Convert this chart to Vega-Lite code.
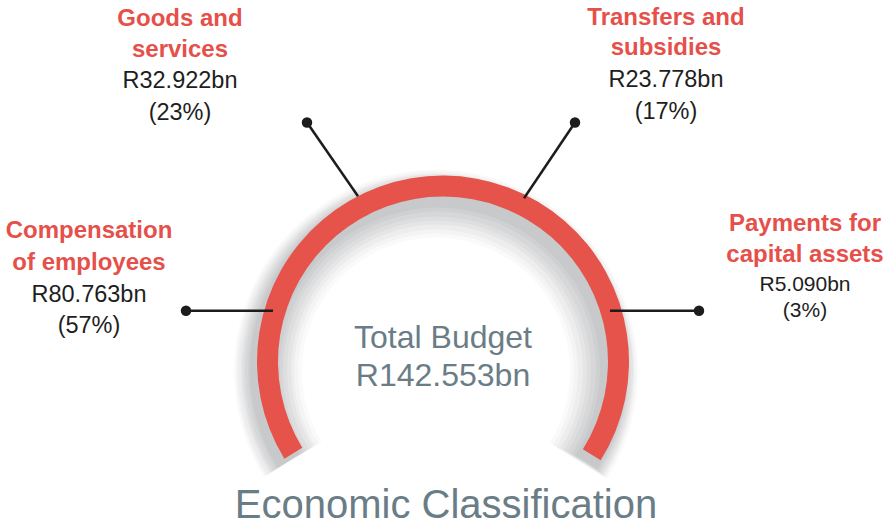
{
  "$schema": "https://vega.github.io/schema/vega-lite/v6.json",
  "width": 892,
  "height": 526,
  "autosize": {"type": "fit", "contains": "padding"},
  "padding": 0,
  "background": "#ffffff",
  "config": {"view": {"stroke": null}, "font": "Liberation Sans"},
  "datasets": {
    "ring": [{"cx": 0, "cy": 0, "a0": -2.12, "a1": 2.13, "total": 142.553}],
    "leaders": [
      {"category": "Compensation of employees", "amount": 80.763, "share": 57, "ex": -170, "ey": 51, "dx": -257, "dy": 51},
      {"category": "Goods and services", "amount": 32.922, "share": 23, "ex": -85, "ey": 166, "dx": -136, "dy": 240},
      {"category": "Transfers and subsidies", "amount": 23.778, "share": 17, "ex": 81, "ey": 164, "dx": 132, "dy": 240},
      {"category": "Payments for capital assets", "amount": 5.09, "share": 3, "ex": 167, "ey": 51, "dx": 256, "dy": 51}
    ],
    "labels": [
      {"category": "Goods and services", "kind": "name", "text": "Goods and", "x": -263, "y": 337},
      {"category": "Goods and services", "kind": "name", "text": "services", "x": -263, "y": 306},
      {"category": "Goods and services", "kind": "value", "text": "R32.922bn", "x": -263, "y": 275},
      {"category": "Goods and services", "kind": "value", "text": "(23%)", "x": -263, "y": 243},
      {"category": "Transfers and subsidies", "kind": "name", "text": "Transfers and", "x": 223, "y": 338},
      {"category": "Transfers and subsidies", "kind": "name", "text": "subsidies", "x": 223, "y": 308},
      {"category": "Transfers and subsidies", "kind": "value", "text": "R23.778bn", "x": 223, "y": 276},
      {"category": "Transfers and subsidies", "kind": "value", "text": "(17%)", "x": 223, "y": 244},
      {"category": "Compensation of employees", "kind": "name", "text": "Compensation", "x": -354, "y": 124},
      {"category": "Compensation of employees", "kind": "name", "text": "of employees", "x": -354, "y": 92},
      {"category": "Compensation of employees", "kind": "value", "text": "R80.763bn", "x": -354, "y": 60},
      {"category": "Compensation of employees", "kind": "value", "text": "(57%)", "x": -354, "y": 29},
      {"category": "Payments for capital assets", "kind": "name", "text": "Payments for", "x": 362, "y": 131},
      {"category": "Payments for capital assets", "kind": "name", "text": "capital assets", "x": 362, "y": 100},
      {"category": "Payments for capital assets", "kind": "small", "text": "R5.090bn", "x": 362, "y": 71},
      {"category": "Payments for capital assets", "kind": "small", "text": "(3%)", "x": 362, "y": 45}
    ],
    "centre": [
      {"kind": "total", "text": "Total Budget", "x": 0, "y": 14},
      {"kind": "total", "text": "R142.553bn", "x": 0, "y": -24},
      {"kind": "title", "text": "Economic Classification", "x": 3, "y": -157}
    ]
  },
  "encoding": {
    "x": {"type": "quantitative", "scale": {"domain": [-443, 449], "nice": false, "zero": false}, "axis": null},
    "y": {"type": "quantitative", "scale": {"domain": [-163, 363], "nice": false, "zero": false}, "axis": null}
  },
  "layer": [
    {
      "data": {"name": "ring"},
      "mark": {"type": "arc", "innerRadius": 134, "outerRadius": 202, "color": "#80868d", "opacity": 0.045, "xOffset": -7, "yOffset": 10},
      "encoding": {"x": {"field": "cx"}, "y": {"field": "cy"}, "theta": {"field": "a0", "type": "quantitative", "scale": null}, "theta2": {"field": "a1"}}
    },
    {
      "data": {"name": "ring"},
      "mark": {"type": "arc", "innerRadius": 138, "outerRadius": 200, "color": "#80868d", "opacity": 0.05, "xOffset": -7, "yOffset": 10},
      "encoding": {"x": {"field": "cx"}, "y": {"field": "cy"}, "theta": {"field": "a0", "type": "quantitative", "scale": null}, "theta2": {"field": "a1"}}
    },
    {
      "data": {"name": "ring"},
      "mark": {"type": "arc", "innerRadius": 142, "outerRadius": 198, "color": "#80868d", "opacity": 0.06, "xOffset": -7, "yOffset": 10},
      "encoding": {"x": {"field": "cx"}, "y": {"field": "cy"}, "theta": {"field": "a0", "type": "quantitative", "scale": null}, "theta2": {"field": "a1"}}
    },
    {
      "data": {"name": "ring"},
      "mark": {"type": "arc", "innerRadius": 146, "outerRadius": 196, "color": "#80868d", "opacity": 0.07, "xOffset": -6, "yOffset": 9},
      "encoding": {"x": {"field": "cx"}, "y": {"field": "cy"}, "theta": {"field": "a0", "type": "quantitative", "scale": null}, "theta2": {"field": "a1"}}
    },
    {
      "data": {"name": "ring"},
      "mark": {"type": "arc", "innerRadius": 150, "outerRadius": 194, "color": "#80868d", "opacity": 0.075, "xOffset": -6, "yOffset": 9},
      "encoding": {"x": {"field": "cx"}, "y": {"field": "cy"}, "theta": {"field": "a0", "type": "quantitative", "scale": null}, "theta2": {"field": "a1"}}
    },
    {
      "data": {"name": "ring"},
      "mark": {"type": "arc", "innerRadius": 154, "outerRadius": 192, "color": "#80868d", "opacity": 0.08, "xOffset": -6, "yOffset": 9},
      "encoding": {"x": {"field": "cx"}, "y": {"field": "cy"}, "theta": {"field": "a0", "type": "quantitative", "scale": null}, "theta2": {"field": "a1"}}
    },
    {
      "data": {"name": "ring"},
      "mark": {"type": "arc", "innerRadius": 158, "outerRadius": 190, "color": "#80868d", "opacity": 0.085, "xOffset": -5, "yOffset": 8},
      "encoding": {"x": {"field": "cx"}, "y": {"field": "cy"}, "theta": {"field": "a0", "type": "quantitative", "scale": null}, "theta2": {"field": "a1"}}
    },
    {
      "data": {"name": "ring"},
      "mark": {"type": "arc", "innerRadius": 162, "outerRadius": 188, "color": "#80868d", "opacity": 0.09, "xOffset": -5, "yOffset": 8},
      "encoding": {"x": {"field": "cx"}, "y": {"field": "cy"}, "theta": {"field": "a0", "type": "quantitative", "scale": null}, "theta2": {"field": "a1"}}
    },
    {
      "data": {"name": "ring"},
      "mark": {"type": "arc", "innerRadius": 165, "outerRadius": 186, "color": "#e5534b"},
      "encoding": {"x": {"field": "cx"}, "y": {"field": "cy"}, "theta": {"field": "a0", "type": "quantitative", "scale": null}, "theta2": {"field": "a1"}}
    },
    {
      "data": {"name": "leaders"},
      "mark": {"type": "rule", "color": "#1c1c1c", "strokeWidth": 2.5},
      "encoding": {"x": {"field": "ex"}, "y": {"field": "ey"}, "x2": {"field": "dx"}, "y2": {"field": "dy"}}
    },
    {
      "data": {"name": "leaders"},
      "mark": {"type": "circle", "color": "#1c1c1c", "opacity": 1, "size": 110},
      "encoding": {"x": {"field": "dx"}, "y": {"field": "dy"}}
    },
    {
      "data": {"name": "labels"},
      "transform": [{"filter": "datum.kind === 'name'"}],
      "mark": {"type": "text", "align": "center", "baseline": "alphabetic", "fontSize": 24, "fontWeight": "bold", "color": "#e5504a"},
      "encoding": {"x": {"field": "x"}, "y": {"field": "y"}, "text": {"field": "text"}}
    },
    {
      "data": {"name": "labels"},
      "transform": [{"filter": "datum.kind === 'value'"}],
      "mark": {"type": "text", "align": "center", "baseline": "alphabetic", "fontSize": 23.5, "color": "#1e1e1e"},
      "encoding": {"x": {"field": "x"}, "y": {"field": "y"}, "text": {"field": "text"}}
    },
    {
      "data": {"name": "labels"},
      "transform": [{"filter": "datum.kind === 'small'"}],
      "mark": {"type": "text", "align": "center", "baseline": "alphabetic", "fontSize": 21, "color": "#1e1e1e"},
      "encoding": {"x": {"field": "x"}, "y": {"field": "y"}, "text": {"field": "text"}}
    },
    {
      "data": {"name": "centre"},
      "transform": [{"filter": "datum.kind === 'total'"}],
      "mark": {"type": "text", "align": "center", "baseline": "alphabetic", "fontSize": 32, "color": "#6a7d87"},
      "encoding": {"x": {"field": "x"}, "y": {"field": "y"}, "text": {"field": "text"}}
    },
    {
      "data": {"name": "centre"},
      "transform": [{"filter": "datum.kind === 'title'"}],
      "mark": {"type": "text", "align": "center", "baseline": "alphabetic", "fontSize": 40, "color": "#6a7d87"},
      "encoding": {"x": {"field": "x"}, "y": {"field": "y"}, "text": {"field": "text"}}
    }
  ]
}
